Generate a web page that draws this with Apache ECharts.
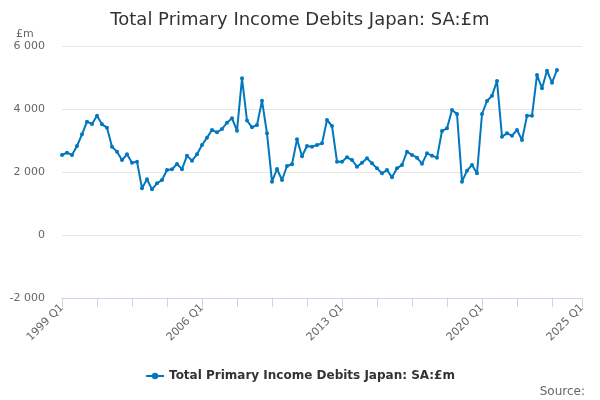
<!DOCTYPE html>
<html>
<head>
<meta charset="utf-8">
<script src="https://cdn.jsdelivr.net/npm/echarts@6/dist/echarts.min.js"></script>
<style>html,body{margin:0;padding:0;background:#fff}#c{width:600px;height:400px}</style>
</head>
<body>
<div id="c"></div>
<script>
const titleText = 'Total Primary Income Debits Japan: SA:£m';
const seriesName = 'Total Primary Income Debits Japan: SA:£m';
const unitLabel = '£m';
const sourceText = 'Source:';
const firstYear = 1999;
const lastYear = 2025;
const yTicks = [-2000, 0, 2000, 4000, 6000];
const values = [
  2540, 2613, 2540, 2825,
  3196, 3598, 3524, 3788,
  3513, 3407, 2804, 2646,
  2381, 2561, 2296, 2328,
  1482, 1768, 1450, 1641,
  1746, 2063, 2085, 2254,
  2090, 2518, 2360, 2561,
  2857, 3090, 3333, 3259,
  3365, 3566, 3704, 3312,
  4974, 3635, 3418, 3492,
  4264, 3228, 1693, 2095,
  1746, 2190, 2244, 3037,
  2500, 2825, 2804, 2857,
  2910, 3651, 3460, 2328,
  2328, 2466, 2381, 2169,
  2296, 2434, 2275, 2116,
  1958, 2063, 1831, 2116,
  2222, 2646, 2540, 2455,
  2260, 2593, 2518, 2455,
  3302, 3386, 3968, 3841,
  1693, 2042, 2222, 1958,
  3841, 4254, 4423, 4889,
  3122, 3228, 3153, 3333,
  3016, 3788, 3788, 5079,
  4656, 5216, 4836, 5238
];
const categories = [];
for (let y = firstYear; y <= lastYear; y++) {
  for (let q = 1; q <= 4; q++) {
    categories.push(y + ' Q' + q);
    if (y === lastYear) break;
  }
}
const lastIdx = categories.length - 1;
const font = 'DejaVu Sans, sans-serif';
const chart = echarts.init(document.getElementById('c'));
chart.setOption({
  animation: false,
  backgroundColor: '#fff',
  title: [{
    text: titleText, left: 'center', top: 6,
    textStyle: { fontFamily: font, fontSize: 18, fontWeight: 'normal', color: '#333' }
  }, {
    text: unitLabel, left: 11, top: 24,
    textStyle: { fontFamily: font, fontSize: 11, fontWeight: 'normal', color: '#666' }
  }, {
    text: sourceText, right: 10, top: 381,
    textStyle: { fontFamily: font, fontSize: 12, fontWeight: 'normal', color: '#666' }
  }],
  legend: {
    top: 365, left: 'center', itemWidth: 18, itemHeight: 8, itemGap: 6,
    textStyle: { fontFamily: font, fontSize: 12, fontWeight: 'bold', color: '#333' }
  },
  grid: { left: 62, right: 18, top: 46, bottom: 102, containLabel: false },
  xAxis: {
    type: 'category', data: categories, boundaryGap: false,
    axisLine: { onZero: false, lineStyle: { color: '#ccd6eb' } },
    axisTick: { show: true, length: 9, lineStyle: { color: '#ccd6eb' },
      interval: (i) => i % 7 === 0 || i === lastIdx },
    axisLabel: {
      interval: (i) => i % 28 === 0 || i === lastIdx,
      rotate: 45, margin: 8, fontFamily: font, fontSize: 11, color: '#666'
    },
    splitLine: { show: false }
  },
  yAxis: {
    type: 'value', min: yTicks[0], max: yTicks[yTicks.length - 1], interval: 2000,
    axisLine: { show: false }, axisTick: { show: false },
    axisLabel: { margin: 17, fontFamily: font, fontSize: 11, color: '#666',
      formatter: (v) => String(v).replace(/\B(?=(\d{3})+(?!\d))/g, ' ') },
    splitLine: { lineStyle: { color: '#e6e6e6' } }
  },
  series: [{
    name: seriesName, type: 'line', data: values,
    symbol: 'circle', symbolSize: 4, showSymbol: true, showAllSymbol: true,
    lineStyle: { width: 2, color: '#0077be' },
    itemStyle: { color: '#0077be' }
  }]
});
</script>
</body>
</html>
